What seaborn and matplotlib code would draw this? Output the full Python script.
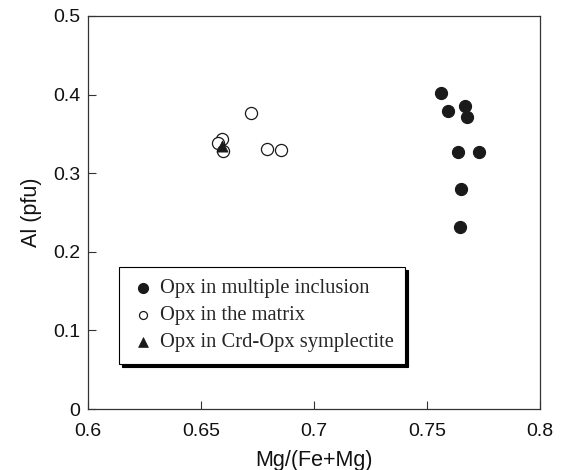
import matplotlib
matplotlib.use("Agg")
import matplotlib.pyplot as plt
import seaborn as sns
import pandas as pd

incl_x = [0.756, 0.7592, 0.7667, 0.7677, 0.7638, 0.773, 0.765, 0.7645]
incl_y = [0.4025, 0.379, 0.385, 0.372, 0.327, 0.327, 0.280, 0.232]
matrix_x = [0.6721, 0.6593, 0.6577, 0.6598, 0.6794, 0.6854]
matrix_y = [0.377, 0.3436, 0.338, 0.3287, 0.3308, 0.3296]
sym_x = [0.6594]
sym_y = [0.335]

labels = ["Opx in multiple inclusion", "Opx in the matrix", "Opx in Crd-Opx symplectite"]
xticks = [0.6, 0.65, 0.7, 0.75, 0.8]
xticklabels = ["0.6", "0.65", "0.7", "0.75", "0.8"]
yticks = [0, 0.1, 0.2, 0.3, 0.4, 0.5]
yticklabels = ["0", "0.1", "0.2", "0.3", "0.4", "0.5"]

sns.set_style("ticks")
plt.rcParams["font.family"] = ["Liberation Sans", "DejaVu Sans"]

fig = plt.figure(figsize=(5.78, 4.70), dpi=100)
ax = fig.add_axes([88/578, 1-409/470, 452/578, 393/470])

df_i = pd.DataFrame({"x": incl_x, "y": incl_y})
df_m = pd.DataFrame({"x": matrix_x, "y": matrix_y})
df_s = pd.DataFrame({"x": sym_x, "y": sym_y})

sns.scatterplot(data=df_i, x="x", y="y", ax=ax, marker="o", s=76, color="#1a1a1a",
                edgecolor="#1a1a1a", linewidth=0.8, label=labels[0], zorder=3)
sns.scatterplot(data=df_m, x="x", y="y", ax=ax, marker="o", s=76, facecolor="white",
                edgecolor="#1a1a1a", linewidth=0.9, label=labels[1], zorder=3)
sns.scatterplot(data=df_s, x="x", y="y", ax=ax, marker="^", s=65, color="#1a1a1a",
                edgecolor="#1a1a1a", linewidth=0.5, label=labels[2], zorder=4)

ax.set_xlim(0.6, 0.8)
ax.set_ylim(0, 0.5)
ax.set_xticks(xticks)
ax.set_xticklabels(xticklabels)
ax.set_yticks(yticks)
ax.set_yticklabels(yticklabels)
ax.tick_params(direction="in", length=5.5, width=0.8, color="#333333", labelsize=14,
               labelcolor="#111111")
ax.tick_params(axis="x", pad=10)
ax.tick_params(axis="y", pad=5.5)
for sp in ax.spines.values():
    sp.set_color("#333333")
    sp.set_linewidth(0.9)
ax.set_xlabel("Mg/(Fe+Mg)", fontsize=15.5, color="#111111", labelpad=7)
ax.set_ylabel("Al (pfu)", fontsize=15.5, color="#111111", labelpad=8)

leg = ax.legend(loc="lower left", bbox_to_anchor=(0.0686, 0.115), frameon=True,
                fancybox=False, shadow={"color": "black", "alpha": 1},
                prop={"family": ["Liberation Serif", "DejaVu Serif"], "size": 14.8},
                handletextpad=0.2, borderpad=0.55, labelspacing=0.38,
                handlelength=1.25, borderaxespad=0)
leg.get_frame().set_edgecolor("black")
leg.get_frame().set_linewidth(0.8)
for h, sz in zip(leg.legend_handles, [52, 33, 50]):
    h.set_sizes([sz])

fig.savefig("out.png", dpi=100)
